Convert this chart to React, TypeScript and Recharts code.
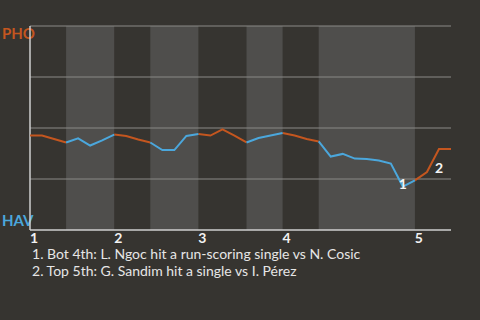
import React from "react";
import {
  LineChart,
  Line,
  XAxis,
  YAxis,
  ReferenceArea,
  ReferenceDot,
  ReferenceLine,
} from "recharts";

// PHO win probability (%) after each plate appearance
const winProb = [
  46.3, 46.3, 44.6, 42.9, 44.9, 41.4, 43.9, 46.8, 46.1, 44.4, 42.9, 39.2,
  39.2, 46.1, 47.1, 46.3, 49.3, 46.3, 42.9, 45.1, 46.3, 47.5, 46.3, 44.6,
  43.4, 36.0, 37.3, 35.0, 34.8, 34.1, 32.6, 21.3, 24.3, 28.4, 39.7, 39.7,
];

// half innings as [first PA index, last PA index]
const topHalves = [
  [0, 3],
  [7, 10],
  [14, 18],
  [21, 24],
  [32, 35],
];
const bottomHalves = [
  [3, 7],
  [10, 14],
  [18, 21],
  [24, 32],
];

const inningTicks = [0, 7, 14, 21, 32];
const inningLabels = ["1", "2", "3", "4", "5"];
const gridValues = [25, 50, 75, 100];

const notes = [
  { pa: 31, label: "1", text: "Bot 4th: L. Ngoc hit a run-scoring single vs N. Cosic" },
  { pa: 34, label: "2", text: "Top 5th: G. Sandim hit a single vs I. Pérez" },
];

const ORANGE = "#c4561f";
const BLUE = "#4ba7dc";
const BG = "#363430";
const BAND = "#4f4e4c";
const FONT = "Lato, 'DejaVu Sans', sans-serif";

const within = (i: number, halves: number[][]) =>
  halves.some(([a, b]) => i >= a && i <= b);

const data = winProb.map((v, i) => ({
  pa: i,
  pho: within(i, topHalves) ? v : null,
  hav: within(i, bottomHalves) ? v : null,
}));

const InningTick = ({ x, y, index }: any) => (
  <text
    x={x + 4}
    y={y + 5}
    textAnchor="middle"
    fill="#f2f2f2"
    fontSize={14}
    fontWeight="bold"
    fontFamily={FONT}
  >
    {inningLabels[index]}
  </text>
);

const noteOffset: Record<string, number> = { "1": -3, "2": 19 };

export default function App() {
  return (
    <div
      style={{
        position: "absolute",
        left: 0,
        top: 0,
        width: 480,
        height: 320,
        background: BG,
        fontFamily: FONT,
        overflow: "hidden",
      }}
    >
      <div
        style={{
          position: "absolute",
          left: 2,
          top: 24,
          color: ORANGE,
          fontWeight: "bold",
          fontSize: 15,
        }}
      >
        PHO
      </div>
      <div
        style={{
          position: "absolute",
          left: 2,
          top: 211,
          color: BLUE,
          fontWeight: "bold",
          fontSize: 15,
        }}
      >
        HAV
      </div>
      <LineChart
        width={480}
        height={250}
        data={data}
        margin={{ top: 26, right: 29, left: 30, bottom: 0 }}
      >
        {bottomHalves.map(([a, b], i) => (
          <ReferenceArea
            key={i}
            x1={a}
            x2={b}
            y1={0}
            y2={100}
            fill={BAND}
            fillOpacity={1}
            stroke="none"
          />
        ))}
        {gridValues.map((g) => (
          <ReferenceLine key={g} y={g} stroke="#8a8986" strokeWidth={1} />
        ))}
        <YAxis hide domain={[0, 100]} ticks={[0, 25, 50, 75, 100]} />
        <XAxis
          dataKey="pa"
          type="number"
          domain={[0, 35]}
          ticks={inningTicks}
          interval={0}
          tickLine={false}
          axisLine={{ stroke: "#cfcfcf", strokeWidth: 1.5 }}
          tick={<InningTick />}
          height={20}
        />
        <ReferenceLine x={0} stroke="#cfcfcf" strokeWidth={1.5} />
        <Line
          dataKey="pho"
          stroke={ORANGE}
          strokeWidth={2}
          dot={false}
          isAnimationActive={false}
        />
        <Line
          dataKey="hav"
          stroke={BLUE}
          strokeWidth={2}
          dot={false}
          isAnimationActive={false}
        />
        {notes.map((n) => (
          <ReferenceDot
            key={n.label}
            x={n.pa}
            y={winProb[n.pa]}
            r={0}
            stroke="none"
            shape={(p: any) => (
              <text
                x={p.cx}
                y={p.cy + noteOffset[n.label] + 5}
                textAnchor="middle"
                fill="#f4f4f4"
                fontSize={14}
                fontWeight="bold"
                fontFamily={FONT}
              >
                {n.label}
              </text>
            )}
          />
        ))}
      </LineChart>
      <div
        style={{
          position: "absolute",
          left: 32,
          top: 245,
          color: "#e6e6e6",
          fontSize: 14,
          lineHeight: "17px",
        }}
      >
        {notes.map((n) => (
          <div key={n.label}>
            {n.label}. {n.text}
          </div>
        ))}
      </div>
    </div>
  );
}
